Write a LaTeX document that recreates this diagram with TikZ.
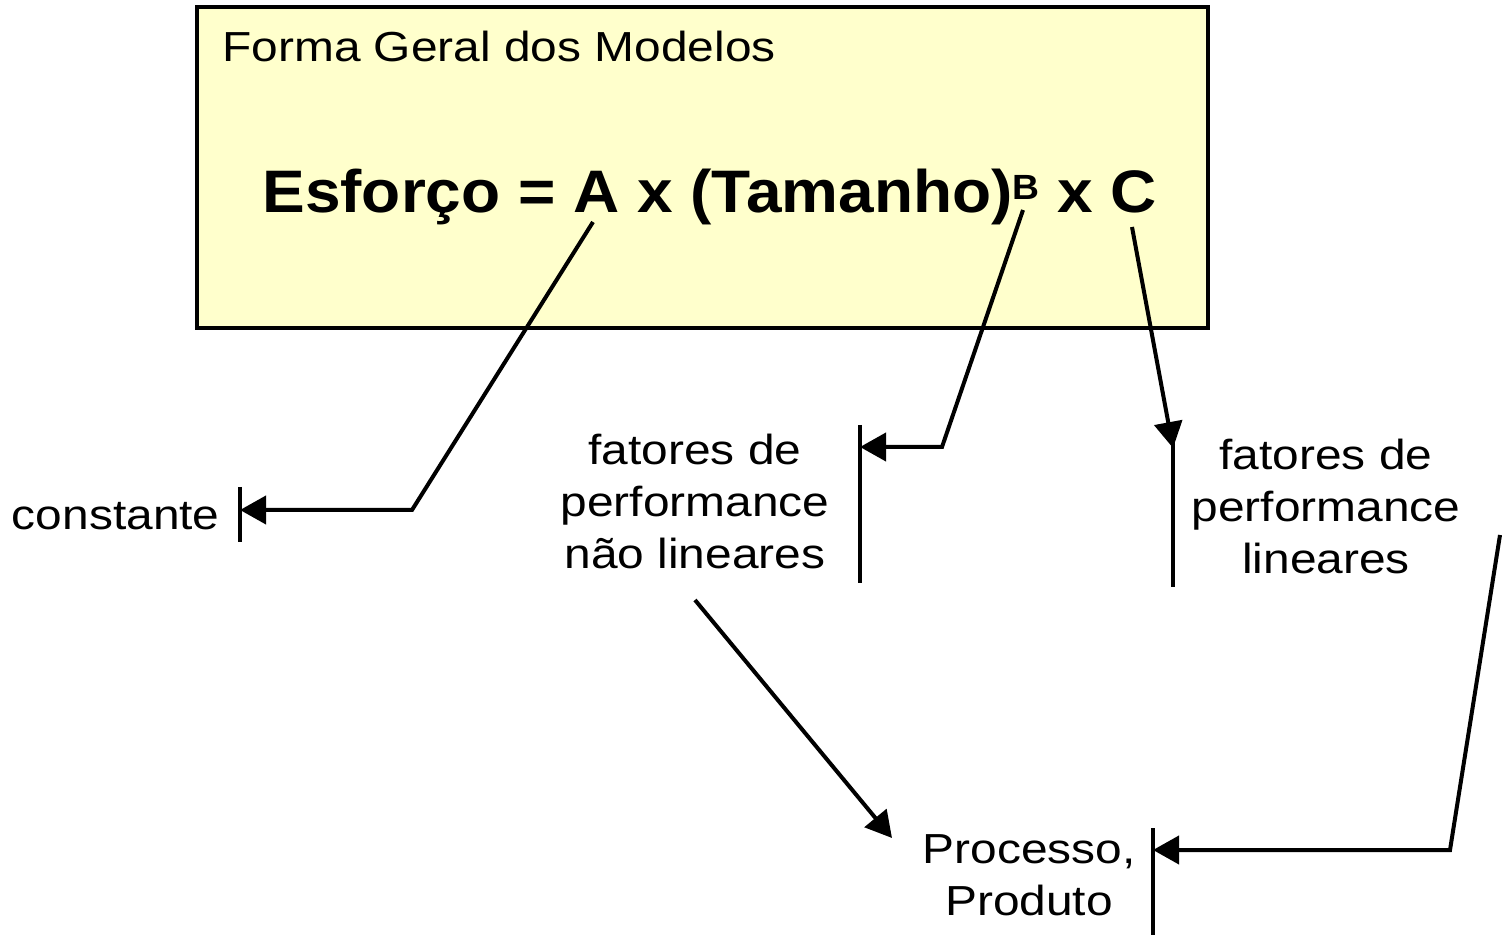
\documentclass[tikz,border=0pt]{standalone}
\usepackage{fontspec}
\setmainfont{Liberation Sans}[FakeStretch=1.14]
\newfontfamily\eqfont{Liberation Sans}[FakeStretch=1.066]
\usetikzlibrary{arrows.meta}
\definecolor{boxyellow}{HTML}{FFFFCC}
\tikzset{
  lbl/.style={inner sep=0pt, align=center, font=\fontsize{21}{26}\selectfont},
  bar/.style={line width=2pt},
  link/.style={line width=2pt, -{Triangle[length=13pt,width=14pt]}}
}
\begin{document}
\begin{tikzpicture}[x=0.5pt,y=-0.5pt]
        \useasboundingbox (0,0) rectangle (1505,935);
        \draw[line width=2pt, fill=boxyellow] (197,7) rectangle (1208,328);
        \node[lbl, anchor=base west] (title) at (222,62) {Forma Geral dos Modelos};
        \node[inner sep=0pt, anchor=base west, font=\eqfont\fontsize{30}{36}\selectfont\bfseries] (eq) at (262,213)
                {Esforço = A x (Tamanho)\raisebox{6.5pt}{\fontsize{17.5}{20}\selectfont B} x C};
        \coordinate (a) at (593,222);
        \coordinate (b) at (1023,210);
        \coordinate (c) at (1132,227);
        % labels
        \node[lbl, anchor=base east] (const) at (220,530) {constante};
        \node[lbl, anchor=base] (nlin) at (695,568) {fatores de\\performance\\não lineares};
        \node[lbl, anchor=base] (lin) at (1326,574) {fatores de\\performance\\lineares};
        \node[lbl, anchor=base] (proc) at (1029,915) {Processo,\\Produto};
        % bars
        \draw[bar] (240,487) coordinate (c1) -- (240,542) coordinate (c2);
        \draw[bar] (860,425) coordinate (n1) -- (860,583) coordinate (n2);
        \draw[bar] (1173,428) coordinate (l1) -- (1173,587) coordinate (l2);
        \draw[bar] (1153,828) coordinate (p1) -- (1153,935) coordinate (p2);
        \coordinate (cbar) at (240,510);
        \coordinate (nbar) at (860,447);
        \coordinate (lbar) at (1173,448);
        \coordinate (pbar) at (1153,850);
        % connectors
        \draw[link] (a) -- (412,510) -- (cbar);
        \draw[link] (b) -- (942,447) -- (nbar);
        \draw[link] (c) -- (lbar);
        \draw[link] (695,600) -- (892,838);
        \draw[link] (1500,535) -- (1450,850) -- (pbar);
\end{tikzpicture}
\end{document}
